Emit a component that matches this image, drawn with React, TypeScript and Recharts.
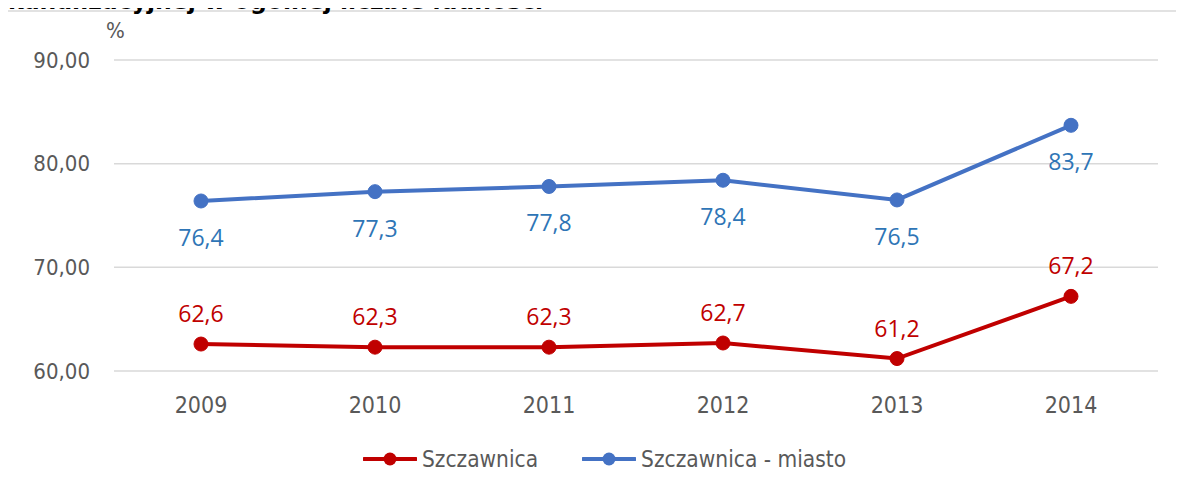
import React from "react";
import { LineChart, Line, XAxis, YAxis, CartesianGrid, Legend, LabelList } from "recharts";

const years = ["2009", "2010", "2011", "2012", "2013", "2014"];
const szczawnica = [62.6, 62.3, 62.3, 62.7, 61.2, 67.2];
const szczawnicaMiasto = [76.4, 77.3, 77.8, 78.4, 76.5, 83.7];
const yTicks = [60, 70, 80, 90];
const titleText = "kanalizacyjnej w ogólnej liczbie ludności";

const data = years.map((y, i) => ({ year: y, gmina: szczawnica[i], miasto: szczawnicaMiasto[i] }));

const RED = "#C00000";
const BLUE = "#4472C4";
const BLUE_LABEL = "#2E75B6";
const FONT = "'DejaVu Sans Condensed', 'DejaVu Sans', sans-serif";

const fmt = (v: number) => v.toFixed(1).replace(".", ",");

const makeLabel = (color: string, dy: number) => (props: any) => {
  const { x, y, value } = props;
  return (
    <text x={x} y={y + dy} fill={color} fontSize={23} fontFamily="'Open Sans', sans-serif" textAnchor="middle" dominantBaseline="central">
      {fmt(value)}
    </text>
  );
};

const legendItems = [
  { name: "Szczawnica", color: RED },
  { name: "Szczawnica - miasto", color: BLUE },
];

const LegendContent = () => (
  <div style={{ display: "flex", justifyContent: "center", alignItems: "center", width: 1184, paddingLeft: 25, boxSizing: "border-box" }}>
    {legendItems.map((it, i) => (
      <div key={it.name} style={{ display: "flex", alignItems: "center", marginLeft: i === 0 ? 0 : 44 }}>
        <svg width={54} height={16} style={{ display: "block" }}>
          <line x1={1} y1={8} x2={53} y2={8} stroke={it.color} strokeWidth={4} strokeLinecap="round" />
          <circle cx={27} cy={8} r={6.5} fill={it.color} />
        </svg>
        <span style={{ fontFamily: FONT, fontSize: 22.5, color: "#595959", marginLeft: 5, lineHeight: "22px" }}>{it.name}</span>
      </div>
    ))}
  </div>
);

export default function App() {
  return (
    <div style={{ position: "relative", width: 1184, height: 488, margin: "-8px 0 0 -8px", overflow: "hidden", background: "#fff" }}>
      <svg width={1184} height={488} style={{ position: "absolute", left: 0, top: 0 }}>
        <rect x={6.5} y={11} width={1300} height={600} fill="#fff" stroke="#d9d9d9" strokeWidth={1.5} />
        <text x={106} y={38} fontFamily={FONT} fontSize={22} fill="#595959">%</text>
      </svg>
      <div style={{ position: "absolute", left: 0, top: 0 }}>
        <LineChart width={1184} height={488} data={data} margin={{ top: 60, right: 26, left: 0, bottom: 87 }}>
          <CartesianGrid vertical={false} stroke="#d9d9d9" strokeWidth={1.5} />
          <XAxis dataKey="year" axisLine={false} tickLine={false} tickSize={0} tickMargin={26} height={30}
            padding={{ left: 87, right: 87 }}
            tick={{ fill: "#595959", fontSize: 23, fontFamily: FONT }} />
          <YAxis domain={[60, 90]} ticks={yTicks} axisLine={false} tickLine={false} tickSize={0} tickMargin={24} width={114}
            tickFormatter={(v: number) => v.toFixed(2).replace(".", ",")}
            tick={{ fill: "#595959", fontSize: 22, fontFamily: FONT }} />
          <Legend layout="horizontal" verticalAlign="middle" align="center" content={<LegendContent />}
            wrapperStyle={{ top: 448, left: 0, width: 1184 }} />
          <Line type="linear" dataKey="gmina" name="Szczawnica" stroke={RED} strokeWidth={4} isAnimationActive={false}
            dot={{ r: 7, fill: RED, stroke: RED, strokeWidth: 1 }} activeDot={false}>
            <LabelList dataKey="gmina" content={makeLabel(RED, -31)} />
          </Line>
          <Line type="linear" dataKey="miasto" name="Szczawnica - miasto" stroke={BLUE} strokeWidth={4} isAnimationActive={false}
            dot={{ r: 7, fill: BLUE, stroke: BLUE, strokeWidth: 1 }} activeDot={false}>
            <LabelList dataKey="miasto" content={makeLabel(BLUE_LABEL, 36)} />
          </Line>
        </LineChart>
      </div>
      <svg width={1184} height={20} style={{ position: "absolute", left: 0, top: 0, pointerEvents: "none" }}>
        <text x={8} y={9} fontFamily="'DejaVu Sans', sans-serif" fontWeight="bold" fontSize={23.5} fill="#000">{titleText}</text>
      </svg>
    </div>
  );
}
